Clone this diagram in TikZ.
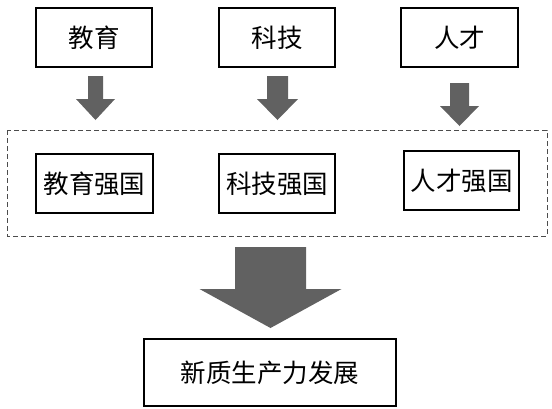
\documentclass[tikz,border=0pt]{standalone}
\usepackage{fontspec}
\newfontfamily\cjk{Noto Sans CJK SC}
\begin{document}
\begin{tikzpicture}[x=1pt,y=-1pt,
  box/.style={draw=black,line width=1.2pt,fill=white,inner sep=0pt,font=\cjk\fontsize{25.5}{28}\selectfont},
  arrowfill/.style={fill=black!62}]
\useasboundingbox (0,0) rectangle (552,408);
\newcommand\fatarrow[6]{\fill[arrowfill] (#1-#5,#2) -- (#1+#5,#2) -- (#1+#5,#3) -- (#1+#6,#3) -- (#1,#4) -- (#1-#6,#3) -- (#1-#5,#3) -- cycle;}
% top boxes
\node[box,minimum width=116pt,minimum height=59pt] (edu) at (94,37.5) {教育};
\node[box,minimum width=116pt,minimum height=59pt] (tech) at (277,37.5) {科技};
\node[box,minimum width=117pt,minimum height=59pt] (talent) at (459.5,37.5) {人才};
% dashed group
\draw[draw=black!70,line width=0.9pt,dash pattern=on 5pt off 3pt] (7,130) rectangle (547,236);
% middle boxes
\node[box,minimum width=117pt,minimum height=59pt] (edu2) at (94.5,183.5) {教育强国};
\node[box,minimum width=116pt,minimum height=59pt] (tech2) at (277,183.5) {科技强国};
\node[box,minimum width=115pt,minimum height=59pt] (talent2) at (461.5,180.5) {人才强国};
% bottom box
\node[box,minimum width=252pt,minimum height=67pt] (goal) at (270,372.5) {新质生产力发展};
% arrows
\fatarrow{95.5}{76}{99}{120}{7.5}{19.5}
\fatarrow{277.5}{76}{99}{120}{10.5}{20.5}
\fatarrow{459.5}{83}{106}{126}{9.5}{19.5}
\fatarrow{270.5}{247}{289}{328}{35.5}{71}
\end{tikzpicture}
\end{document}
